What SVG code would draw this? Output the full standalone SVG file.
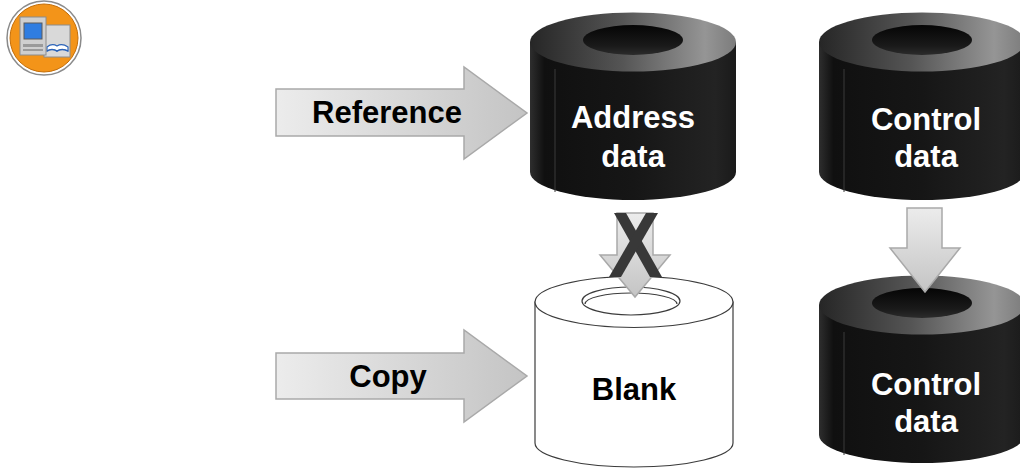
<svg xmlns="http://www.w3.org/2000/svg" xmlns:xlink="http://www.w3.org/1999/xlink" width="1020" height="468" viewBox="0 0 1020 468">
  <style>
    .lbl { font-family: "Liberation Sans", Arial, sans-serif; font-weight: bold; font-size: 31px; text-anchor: middle; }
    .dark { fill: #000000; }
    .light { fill: #ffffff; }
    .arrowH { fill: url(#arrowGradH); stroke: #a9a9a9; stroke-width: 1.5; }
    .arrowV { fill: url(#arrowGradV); stroke: #a9a9a9; stroke-width: 1.5; }
    .outline { fill: #ffffff; stroke: #3c3c3c; stroke-width: 1.2; }
    .hole { fill: none; stroke: #3c3c3c; stroke-width: 1.2; }
    .cross { fill: #383838; }
  </style>
  <defs>
    <linearGradient id="arrowGradH" x1="0" y1="0" x2="1" y2="0">
      <stop offset="0" stop-color="#ececec"/>
      <stop offset="1" stop-color="#c4c4c4"/>
    </linearGradient>
    <linearGradient id="arrowGradV" x1="0" y1="0" x2="0" y2="1">
      <stop offset="0" stop-color="#ececec"/>
      <stop offset="1" stop-color="#c4c4c4"/>
    </linearGradient>
    <linearGradient id="bodyGrad" x1="0" y1="0" x2="1" y2="0">
      <stop offset="0" stop-color="#2e2e2e"/>
      <stop offset="0.07" stop-color="#101010"/>
      <stop offset="0.5" stop-color="#161616"/>
      <stop offset="0.9" stop-color="#232323"/>
      <stop offset="1" stop-color="#1a1a1a"/>
    </linearGradient>
    <linearGradient id="topGrad" x1="0" y1="0" x2="1" y2="0">
      <stop offset="0" stop-color="#262626"/>
      <stop offset="0.45" stop-color="#555555"/>
      <stop offset="0.85" stop-color="#959595"/>
      <stop offset="1" stop-color="#7c7c7c"/>
    </linearGradient>
    <linearGradient id="holeGrad" x1="0" y1="0" x2="0" y2="1">
      <stop offset="0" stop-color="#050505"/>
      <stop offset="0.7" stop-color="#1a1a1a"/>
      <stop offset="1" stop-color="#2c2c2c"/>
    </linearGradient>
    <!-- solid dark cylinder, origin at the centre of its top face -->
    <g id="darkCylinder">
      <path d="M -103 0 L -103 130 A 103 28 0 0 0 103 130 L 103 0 Z" fill="url(#bodyGrad)"/>
      <line x1="-78" y1="27" x2="-78" y2="150" stroke="#3a3a3a" stroke-width="1"/>
      <ellipse cx="0" cy="0" rx="103" ry="29.5" fill="url(#topGrad)"/>
      <ellipse cx="0" cy="-2" rx="50" ry="15" fill="url(#holeGrad)"/>
    </g>
  </defs>

  <rect width="1020" height="468" fill="#ffffff"/>

  <!-- course icon -->
  <g id="icon">
    <circle cx="44" cy="38" r="37" fill="#ffffff" stroke="#8a8a8a" stroke-width="1.5"/>
    <circle cx="44" cy="38" r="34" fill="#f39419" stroke="#c46f0a" stroke-width="1"/>
    <rect x="44" y="25" width="26" height="32" fill="#d9d9d9" stroke="#8c8c8c" stroke-width="1"/>
    <path d="M 47 47 Q 52 43 57 46 Q 62 43 68 47 L 68 51 Q 62 48 57 51 Q 52 48 47 51 Z" fill="#ffffff" stroke="#2b63b8" stroke-width="1.2"/>
    <path d="M 47 51 Q 52 48 57 51 Q 62 48 68 51" fill="none" stroke="#2b63b8" stroke-width="1.5"/>
    <rect x="20" y="17" width="26" height="38" fill="#cfcfcf" stroke="#8c8c8c" stroke-width="1"/>
    <rect x="24" y="23" width="18" height="16" fill="#2f7de1" stroke="#5a5a5a" stroke-width="1"/>
    <rect x="23" y="44" width="20" height="3" fill="#9a9a9a"/>
    <rect x="23" y="49" width="20" height="2" fill="#9a9a9a"/>
  </g>

  <g id="node-address">
    <use xlink:href="#darkCylinder" transform="translate(633,42)"/>
    <text class="lbl light" x="633" y="128">Address</text>
    <text class="lbl light" x="633" y="167">data</text>
  </g>

  <g id="node-control-source">
    <use xlink:href="#darkCylinder" transform="translate(922,42)"/>
    <text class="lbl light" x="926" y="130">Control</text>
    <text class="lbl light" x="926" y="167">data</text>
  </g>

  <g id="node-blank">
    <path class="outline" d="M 535 302 L 535 443 A 99 24 0 0 0 733 443 L 733 302 Z"/>
    <ellipse class="outline" cx="634" cy="302" rx="99" ry="25.5"/>
    <ellipse class="hole" cx="631" cy="301" rx="49" ry="14"/>
    <path class="hole" d="M 585 304 A 46 11 0 0 1 677 304"/>
    <text class="lbl dark" x="634" y="400">Blank</text>
  </g>

  <g id="node-control-target">
    <use xlink:href="#darkCylinder" transform="translate(922,305)"/>
    <text class="lbl light" x="926" y="395">Control</text>
    <text class="lbl light" x="926" y="432">data</text>
  </g>

  <g id="connectors">
    <!-- Reference -->
    <path class="arrowH" d="M 276 89 L 464 89 L 464 67 L 527 113 L 464 159 L 464 136 L 276 136 Z"/>
    <text class="lbl dark" x="387" y="123">Reference</text>
    <!-- Copy -->
    <path class="arrowH" d="M 276 353 L 464 353 L 464 330 L 527 376 L 464 422 L 464 399 L 276 399 Z"/>
    <text class="lbl dark" x="388" y="387">Copy</text>
    <!-- blocked transfer -->
    <path class="arrowV" d="M 617 213 L 653 213 L 653 255 L 670 255 L 635 297 L 600 255 L 617 255 Z"/>
    <polygon class="cross" points="614,213 626,213 662,277 650,277"/>
    <polygon class="cross" points="646,213 658,213 621,277 609,277"/>
    <!-- control data transfer -->
    <path class="arrowV" d="M 907 208 L 942 208 L 942 248 L 960 248 L 925 292 L 890 248 L 907 248 Z"/>
  </g>
</svg>
